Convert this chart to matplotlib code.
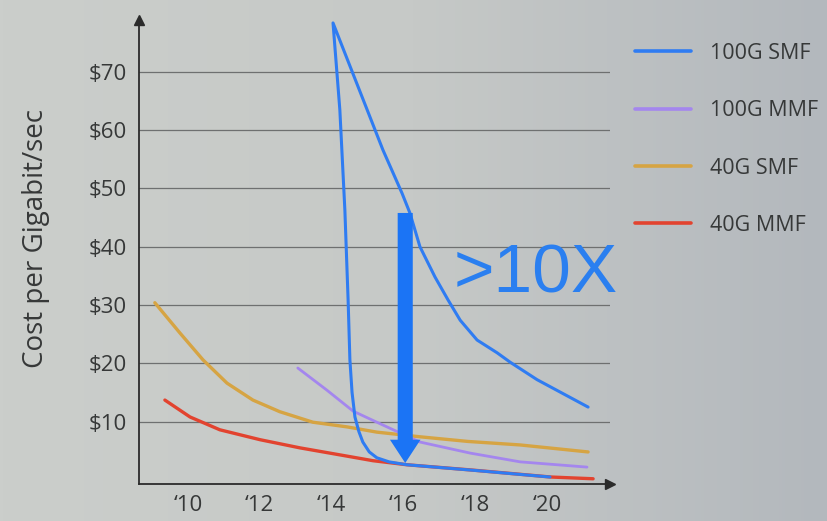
import numpy as np
import matplotlib
matplotlib.use('Agg')
import matplotlib.pyplot as plt
from matplotlib.patches import FancyArrow

plt.rcParams['font.family'] = ['Open Sans', 'DejaVu Sans']

# Series (year, $ per Gbit/s)
smf100_year = [2020.08, 2017.86, 2016.10, 2015.60, 2015.26, 2015.05, 2014.87, 2014.76,
               2014.65, 2014.57, 2014.51, 2014.46, 2014.37, 2014.23, 2014.04, 2015.43,
               2015.96, 2016.18, 2016.46, 2016.88, 2017.24, 2017.58, 2018.05, 2018.61,
               2018.97, 2019.72, 2021.14]
smf100_cost = [0.5, 1.7, 2.6, 3.1, 3.8, 4.8, 6.5, 8.3,
               10.8, 15.0, 20.6, 30.9, 46.3, 63.5, 78.4, 56.6,
               49.2, 45.8, 40.0, 34.8, 30.9, 27.4, 24.0, 21.8,
               20.2, 17.2, 12.5]

mmf100_year = [2013.06, 2013.87, 2014.60, 2015.40, 2016.46, 2017.86, 2019.25, 2021.11]
mmf100_cost = [19.2, 15.4, 11.8, 9.5, 6.5, 4.6, 3.1, 2.2]

smf40_year = [2009.08, 2009.78, 2010.42, 2011.09, 2011.81, 2012.56, 2013.48, 2014.43,
              2015.26, 2016.46, 2017.80, 2019.25, 2021.14]
smf40_cost = [30.4, 25.2, 20.6, 16.6, 13.7, 11.7, 9.9, 9.1,
              8.2, 7.4, 6.6, 6.0, 4.8]

mmf40_year = [2009.36, 2010.06, 2010.89, 2012.01, 2013.12, 2014.23, 2015.15, 2016.10,
              2017.90, 2020.10, 2021.28]
mmf40_cost = [13.7, 10.8, 8.6, 6.9, 5.5, 4.3, 3.3, 2.6,
              1.7, 0.5, 0.2]

y_ticks = [10, 20, 30, 40, 50, 60, 70]
y_labels = ['$10', '$20', '$30', '$40', '$50', '$60', '$70']
x_ticks = [2010, 2012, 2014, 2016, 2018, 2020]
x_labels = ['\u201810', '\u201812', '\u201814', '\u201816', '\u201818', '\u201820']

# the big ">10X" arrow
arrow_year = 2016.05
arrow_top = 45.8
arrow_bottom = 2.9

c_blue = '#2f7cf2'
c_purple = '#a486ee'
c_orange = '#d6a443'
c_red = '#e2432f'
c_arrow = '#1b74f5'
c_text = '#363838'

fig = plt.figure(figsize=(8.27, 5.21), dpi=100)

# slide background, slightly darker to the right
bg = fig.add_axes([0, 0, 1, 1], zorder=-10)
grad = np.linspace(0, 1, 256)[None, :]
bg.imshow(grad, aspect='auto', cmap=matplotlib.colors.LinearSegmentedColormap.from_list(
    'bg', ['#cbcecb', '#c6c9c7', '#b3b8bd']), extent=[0, 1, 0, 1])
bg.axis('off')

ax = fig.add_axes([0.1681, 0.0710, 0.5695, 0.8906])
ax.patch.set_alpha(0)
ax.set_xlim(2008.64, 2021.75)
ax.set_ylim(-0.7, 78.9)

for y in y_ticks:
    ax.axhline(y, color='#6e7070', lw=0.9, zorder=1)

kw = dict(solid_joinstyle='round', solid_capstyle='round', zorder=3)
ax.plot(mmf40_year, mmf40_cost, color=c_red, lw=2.4, label='40G MMF', **kw)
ax.plot(smf40_year, smf40_cost, color=c_orange, lw=2.4, label='40G SMF', **kw)
ax.plot(mmf100_year, mmf100_cost, color=c_purple, lw=2.0, label='100G MMF', **kw)
kw['zorder'] = 4
ax.plot(smf100_year, smf100_cost, color=c_blue, lw=2.2, label='100G SMF', **kw)

ax.add_patch(FancyArrow(arrow_year, arrow_top, 0, arrow_bottom - arrow_top,
                        width=0.42, head_width=0.85, head_length=4.0,
                        length_includes_head=True, color=c_arrow, lw=0, zorder=5))
ax.text(2017.40, 35.3, '>10X', color='#2a7ff0', fontsize=50,
        family=['Liberation Sans', 'DejaVu Sans'], va='center', ha='left')

for s in ['top', 'right']:
    ax.spines[s].set_visible(False)
for s in ['left', 'bottom']:
    ax.spines[s].set_color('#2b2b2b')
    ax.spines[s].set_linewidth(1.3)
ax.plot(1, 0, '>', color='#2b2b2b', ms=7, transform=ax.transAxes, clip_on=False)
ax.plot(0, 1, '^', color='#2b2b2b', ms=7, transform=ax.transAxes, clip_on=False)

ax.set_yticks(y_ticks)
ax.set_yticklabels(y_labels)
ax.set_xticks(x_ticks)
ax.set_xticklabels(x_labels)
ax.tick_params(length=0, labelsize=16, colors=c_text)
ax.tick_params(axis='y', pad=9)
ax.tick_params(axis='x', pad=8)
ax.set_ylabel('Cost per Gigabit/sec', fontsize=20, color=c_text)
ax.yaxis.set_label_coords(-0.19, 0.53)

handles, labels = ax.get_legend_handles_labels()
order = [3, 2, 1, 0]
leg = fig.legend([handles[i] for i in order], [labels[i] for i in order],
                 loc='upper left', bbox_to_anchor=(0.745, 0.955), frameon=False,
                 fontsize=15.5, handlelength=2.6, handletextpad=0.85, labelspacing=1.69)
for t in leg.get_texts():
    t.set_color(c_text)
for h in leg.get_lines():
    h.set_linewidth(2.6)

fig.savefig('out.png', dpi=100)
